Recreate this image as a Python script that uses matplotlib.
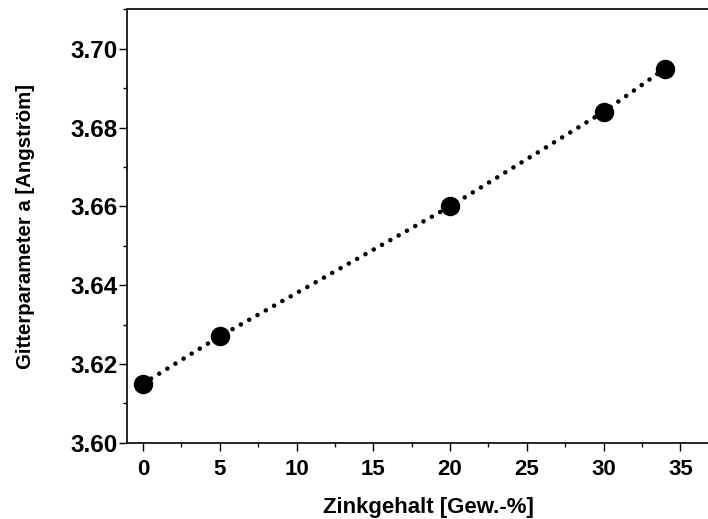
import matplotlib.pyplot as plt
from matplotlib.ticker import MultipleLocator, FormatStrFormatter

plt.rcParams['font.family'] = ['Liberation Sans', 'DejaVu Sans']
plt.rcParams['font.weight'] = 'bold'

# data
zink = [0, 5, 20, 30, 34]
gitter_a = [3.615, 3.627, 3.660, 3.684, 3.695]

fig = plt.figure(figsize=(7.08, 5.19), dpi=100)
ax = fig.add_axes([127/708, 1 - 442.7/519, 581/708, 433.2/519])

ax.plot(zink, gitter_a, color='black', linewidth=3.3,
        linestyle=(0, (0.01, 2.07)), dash_capstyle='round', zorder=2)
ax.plot(zink, gitter_a, 'o', color='black', markersize=13, zorder=3)

ax.set_xlim(-1.04, 36.8)
ax.set_ylim(3.60, 3.71)

ax.xaxis.set_major_locator(MultipleLocator(5))
ax.xaxis.set_minor_locator(MultipleLocator(2.5))
ax.yaxis.set_major_locator(MultipleLocator(0.02))
ax.yaxis.set_minor_locator(MultipleLocator(0.01))
ax.yaxis.set_major_formatter(FormatStrFormatter('%.2f'))

ax.spines['right'].set_visible(False)
for s in ['left', 'bottom', 'top']:
    ax.spines[s].set_linewidth(1.2)

ax.tick_params(which='major', direction='out', length=5.5, width=1.0,
               top=False, right=False)
ax.tick_params(which='minor', direction='out', length=3, width=1.0,
               top=False, right=False)
ax.tick_params(axis='x', which='major', pad=6, labelsize=16)
ax.tick_params(axis='y', which='major', pad=1, labelsize=17.5)

ax.set_xlabel('Zinkgehalt [Gew.-%]', fontsize=16, fontweight='bold')
ax.set_ylabel('Gitterparameter a [Angström]', fontsize=14.7, fontweight='bold')
ax.xaxis.set_label_coords((428 - 127) / 581, -(497 - 442.7) / 433.2)
ax.yaxis.set_label_coords(-(127 - 35) / 581, 0.5)

fig.savefig('out.png', dpi=100)
